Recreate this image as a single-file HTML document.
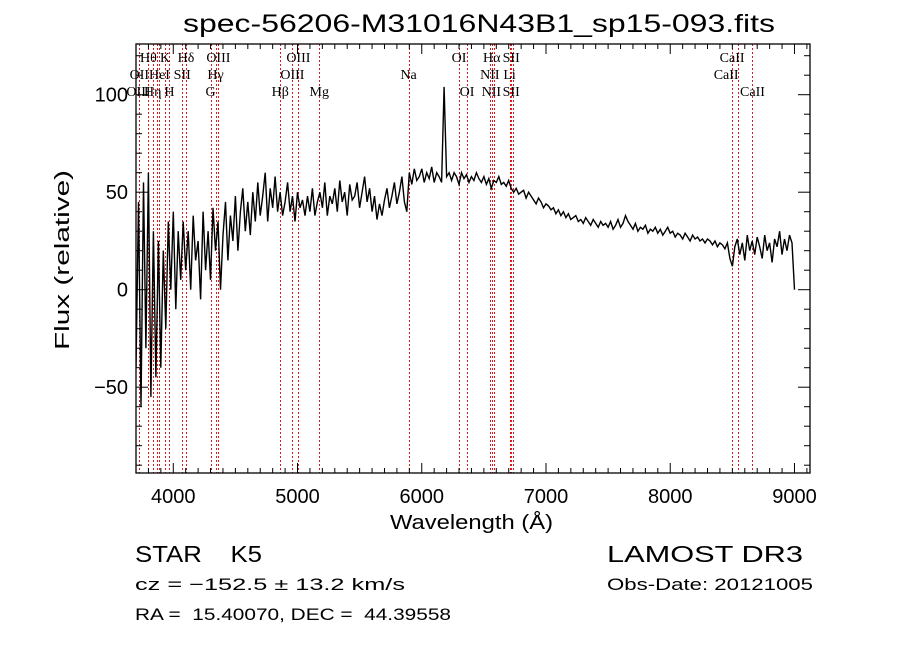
<!DOCTYPE html>
<html><head><meta charset="utf-8"><style>
html,body{margin:0;padding:0;background:#fff;width:900px;height:649px;overflow:hidden}
svg{display:block}
text{font-family:"Liberation Sans",sans-serif;fill:#000;white-space:pre}
.lab{font-family:"Liberation Serif",serif;font-size:14px}
.tk{font-size:20px}
</style></head><body>
<svg id="chart" width="900" height="649" viewBox="0 0 900 649" xmlns="http://www.w3.org/2000/svg" xml:space="preserve">
<defs><clipPath id="pc"><rect x="136" y="44" width="674" height="429"/></clipPath></defs>
<text x="183" y="32" font-size="25" textLength="592" lengthAdjust="spacingAndGlyphs">spec-56206-M31016N43B1_sp15-093.fits</text>
<g id="lines"></g>
<g id="labels"></g>
<g id="spec" clip-path="url(#pc)"></g>
<g id="axes"></g>
<text transform="translate(69,260) rotate(-90)" text-anchor="middle" font-size="20" textLength="180" lengthAdjust="spacingAndGlyphs">Flux (relative)</text>
<text x="390" y="529" font-size="20" textLength="163" lengthAdjust="spacingAndGlyphs">Wavelength (Å)</text>
<text x="135" y="562" font-family="Liberation Serif" font-size="23" textLength="127" lengthAdjust="spacingAndGlyphs">STAR    K5</text>
<text x="607" y="562" font-family="Liberation Serif" font-size="23" textLength="196" lengthAdjust="spacingAndGlyphs">LAMOST DR3</text>
<text x="135" y="590" font-size="17" textLength="270" lengthAdjust="spacingAndGlyphs">cz = −152.5 ± 13.2 km/s</text>
<text x="607" y="590" font-size="17" textLength="206" lengthAdjust="spacingAndGlyphs">Obs-Date: 20121005</text>
<text x="135" y="620" font-size="17" textLength="316" lengthAdjust="spacingAndGlyphs">RA =  15.40070, DEC =  44.39558</text>
</svg>
<script>
var waveStart = 3680;
var waveStep = 20;
var flux = [
10,-40,45,-60,55,-30,60,-55,30,-45,
25,-40,20,-20,35,0,40,-10,30,5,
35,10,30,0,38,15,25,-5,40,10,
30,5,42,20,35,0,28,45,15,38,
25,48,20,40,52,30,45,28,50,35,
55,38,48,60,35,52,42,58,40,50,
38,45,55,40,48,35,50,42,46,38,
48,40,52,38,45,50,42,55,38,48,
44,52,40,56,45,50,38,54,46,48,
55,42,50,58,45,52,40,48,36,44,
38,46,52,42,48,55,44,50,58,45,
40,60,54,62,56,58,62,55,60,57,
63,55,60,58,55,104,58,60,56,60,
58,54,60,57,59,55,58,56,60,57,
55,58,54,57,52,56,55,58,54,55,
53,56,52,50,52,49,50,51,47,50,
48,46,44,47,45,42,44,43,41,42,
39,41,38,40,37,39,36,37,38,35,
36,34,37,35,33,36,34,32,35,33,
34,32,35,31,33,36,32,34,38,35,
33,31,34,30,32,31,33,29,31,30,
32,29,31,28,30,32,29,30,27,29,
28,26,29,27,25,28,26,27,25,26,
24,26,25,23,25,22,24,23,21,24,
16,12,22,26,18,24,15,28,20,25,
18,27,22,16,28,20,24,14,26,22,
30,18,26,20,28,24,0];
var lineWaves = [3727,3798,3835,3869,3889,3934,3969,4072,4102,4300,4340,4363,4861,4959,5007,5175,5894,6300,6364,6548,6563,6583,6707,6717,6731,8498,8542,8662];
var labelText = ["Hθ","K","Hδ","OIII","OIII","OI","Hα","SII","CaII","OII","HeI","SII","Hγ","OIII","Na","NII","Li","CaII","OIII","Hη","H","G","Hβ","Mg","OI","NII","SII","CaII"];
var labelWave = [3800,3934,4102,4363,5007,6300,6563,6720,8498,3727,3889,4072,4340,4959,5894,6548,6707,8450,3720,3835,3969,4300,4861,5175,6364,6560,6720,8662];
var labelRow = [0,0,0,0,0,0,0,0,0,1,1,1,1,1,1,1,1,1,2,2,2,2,2,2,2,2,2,2];
var xTicks = [4000,5000,6000,7000,8000,9000];
var yTicks = [-50,0,50,100];

var X0=136,X1=810,Y0=44,Y1=473;
var wMin=3700,wMax=9125,fMin=-94,fMax=126;
function xs(w){return X0+(w-wMin)/(wMax-wMin)*(X1-X0);}
function ys(f){return Y1-(f-fMin)/(fMax-fMin)*(Y1-Y0);}
var NS="http://www.w3.org/2000/svg";
function mk(t,a,p){var e=document.createElementNS(NS,t);for(var k in a)e.setAttribute(k,a[k]);p.appendChild(e);return e;}

var gL=document.getElementById('lines');
lineWaves.forEach(function(w){
  var x=Math.round(xs(w))+0.5;
  var l=mk('line',{x1:x,x2:x,y1:Y0,y2:Y1,stroke:'#d41c1c','stroke-width':1,'stroke-dasharray':'2,2','shape-rendering':'crispEdges'},gL);
  
  
});
var gT=document.getElementById('labels');
labelText.forEach(function(s,i){
  var t=mk('text',{x:xs(labelWave[i]),y:62+labelRow[i]*17,'text-anchor':'middle','class':'lab'},gT);
  t.textContent=s;
  
  
});
var pts=flux.map(function(f,i){return xs(waveStart+i*waveStep).toFixed(1)+','+ys(f).toFixed(1);});
var p=mk('polyline',{points:pts.join(' '),fill:'none',stroke:'#000','stroke-width':1.4},document.getElementById('spec'));



var gA=document.getElementById('axes');
var fr=mk('rect',{x:X0,y:Y0,width:X1-X0,height:Y1-Y0,fill:'none',stroke:'#000','stroke-width':1.3},gA);


for(var w=3700;w<=9100;w+=100){
  var L=(w%1000===0)?10:5,x=xs(w);
  mk('line',{x1:x,x2:x,y1:Y1,y2:Y1-L,stroke:'#000'},gA);
  mk('line',{x1:x,x2:x,y1:Y0,y2:Y0+L,stroke:'#000'},gA);
}
for(var f=-90;f<=120;f+=10){
  var L2=(f%50===0)?12:6,y=ys(f);
  mk('line',{x1:X0,x2:X0+L2,y1:y,y2:y,stroke:'#000'},gA);
  mk('line',{x1:X1,x2:X1-L2,y1:y,y2:y,stroke:'#000'},gA);
}
xTicks.forEach(function(v){
  var t=mk('text',{x:xs(v),y:503,'text-anchor':'middle','class':'tk'},gA);
  t.textContent=v;
  
  
});
yTicks.forEach(function(v){
  var t=mk('text',{x:128,y:ys(v)+7,'text-anchor':'end','class':'tk'},gA);
  t.textContent=v<0?'−'+(-v):v;
  
  
});
</script>
</body></html>
